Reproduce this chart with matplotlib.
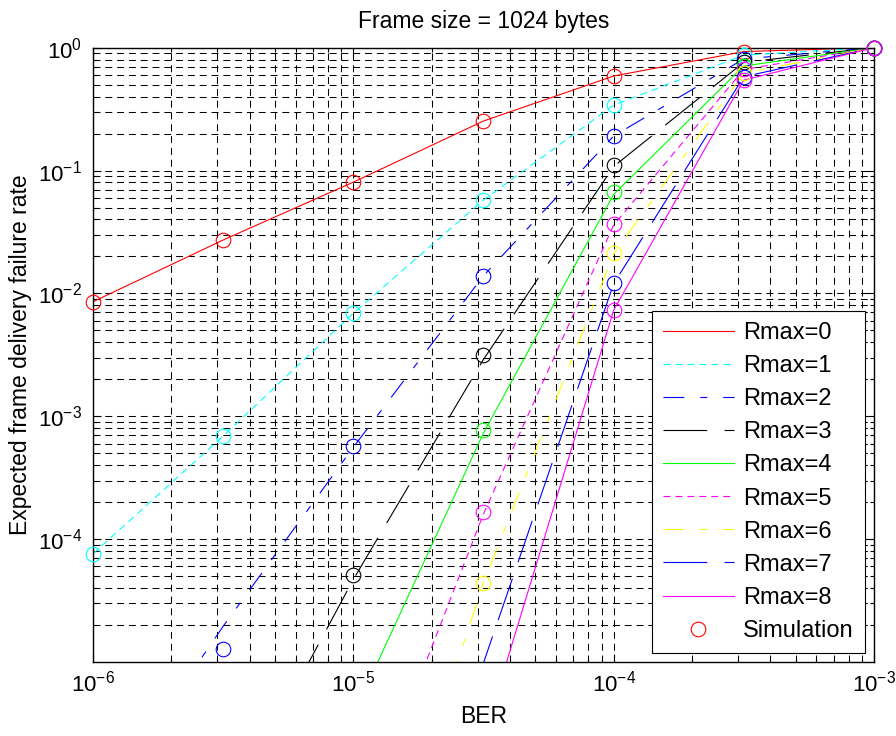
import numpy as np
import matplotlib
matplotlib.use("Agg")
import matplotlib.pyplot as plt
from matplotlib.lines import Line2D
from matplotlib.ticker import FixedLocator, LogFormatterSciNotation, NullFormatter

plt.rcParams["font.family"] = ["Liberation Sans", "DejaVu Sans"]
plt.rcParams["lines.scale_dashes"] = False

# Bit error rates at which the failure rate is evaluated
ber = [1e-6, 3.16e-6, 1e-5, 3.16e-5, 1e-4, 3.16e-4, 1e-3]

# Analytic expected frame delivery failure rate per retry limit
rate_r0 = [8.55e-3, 2.72e-2, 8.05e-2, 2.53e-1, 5.88e-1, 9.30e-1, 1.0]
rate_r1 = [7.6e-5, 6.9e-4, 6.9e-3, 5.75e-2, 3.41e-1, 8.70e-1, 1.0]
rate_r2 = [5.5e-7, 1.95e-5, 5.6e-4, 1.39e-2, 1.91e-1, 8.10e-1, 1.0]
rate_r3 = [4.5e-9, 5.0e-7, 4.7e-5, 2.9e-3, 1.08e-1, 7.60e-1, 1.0]
rate_r4 = [3.7e-11, 1.1e-8, 3.7e-6, 7.3e-4, 6.4e-2, 7.10e-1, 1.0]
rate_r5 = [3.0e-13, 2.8e-10, 3.0e-7, 1.6e-4, 3.6e-2, 6.65e-1, 1.0]
rate_r6 = [2.5e-15, 7.2e-12, 2.6e-8, 4.4e-5, 2.1e-2, 6.20e-1, 1.0]
rate_r7 = [2.0e-17, 1.8e-13, 1.5e-9, 9.8e-6, 1.2e-2, 5.80e-1, 1.0]
rate_r8 = [1.7e-19, 4.7e-15, 1.2e-10, 2.4e-6, 7.3e-3, 5.45e-1, 1.0]

# Simulated failure rates (NaN where nothing was recorded in range)
nan = np.nan
sim_r0 = [8.55e-3, 2.72e-2, 8.05e-2, 2.53e-1, 5.88e-1, 9.30e-1, 1.0]
sim_r1 = [7.6e-5, 6.9e-4, 6.9e-3, 5.75e-2, 3.41e-1, 8.70e-1, 1.0]
sim_r2 = [nan, 1.27e-5, 5.7e-4, 1.39e-2, 1.91e-1, 8.10e-1, 1.0]
sim_r3 = [nan, nan, 5.1e-5, 3.13e-3, 1.11e-1, 7.60e-1, 1.0]
sim_r4 = [nan, nan, nan, 7.8e-4, 6.68e-2, 7.10e-1, 1.0]
sim_r5 = [nan, nan, nan, 1.65e-4, 3.67e-2, 6.65e-1, 1.0]
sim_r6 = [nan, nan, nan, 4.4e-5, 2.13e-2, 6.20e-1, 1.0]
sim_r7 = [nan, nan, nan, nan, 1.21e-2, 5.80e-1, 1.0]
sim_r8 = [nan, nan, nan, nan, 7.3e-3, 5.45e-1, 1.0]

labels = ["Rmax=0", "Rmax=1", "Rmax=2", "Rmax=3", "Rmax=4",
          "Rmax=5", "Rmax=6", "Rmax=7", "Rmax=8"]

rates = [rate_r0, rate_r1, rate_r2, rate_r3, rate_r4, rate_r5, rate_r6, rate_r7, rate_r8]
sims = [sim_r0, sim_r1, sim_r2, sim_r3, sim_r4, sim_r5, sim_r6, sim_r7, sim_r8]

colors = ["#ff0000", "#00ffff", "#0000ff", "#000000", "#00ff00",
          "#ff00ff", "#ffff00", "#0000ff", "#ff00ff"]
solid = "-"
short_dash = (0, (5.0, 3.6))
dash_dot = (0, (15.0, 11.5, 5.0, 11.5))
long_dash = (0, (31.5, 12.5))
styles = [solid, short_dash, dash_dot, long_dash, solid,
          short_dash, dash_dot, long_dash, solid]

fig = plt.figure(figsize=(8.96, 7.36), dpi=100)
ax = fig.add_axes([93 / 896, 1 - 662 / 736, (874 - 93) / 896, (662 - 47.7) / 736])

handles = []
for r, lab, c, ls in zip(rates, labels, colors, styles):
    h, = ax.plot(ber, r, color=c, linestyle=ls, linewidth=0.8, label=lab)
    handles.append(h)

for s, c in zip(sims, colors):
    ax.plot(ber, s, linestyle="none", marker="o", markersize=10.5,
            markerfacecolor="none", markeredgecolor=c, markeredgewidth=0.8,
            clip_on=False, zorder=3)

ax.set_xscale("log")
ax.set_yscale("log")
ax.set_xlim(1e-6, 1e-3)
ax.set_ylim(1e-5, 1.0)

xmajor = [1e-6, 1e-5, 1e-4, 1e-3]
ymajor = [1e-4, 1e-3, 1e-2, 1e-1, 1e0]
xminor = [m * d for d in [1e-6, 1e-5, 1e-4] for m in range(2, 10)]
yminor = [m * d for d in [1e-5, 1e-4, 1e-3, 1e-2, 1e-1] for m in range(2, 10)]
ax.xaxis.set_major_locator(FixedLocator(xmajor))
ax.yaxis.set_major_locator(FixedLocator(ymajor))
ax.xaxis.set_minor_locator(FixedLocator(xminor))
ax.yaxis.set_minor_locator(FixedLocator(yminor))
ax.xaxis.set_major_formatter(LogFormatterSciNotation())
ax.yaxis.set_major_formatter(LogFormatterSciNotation())
ax.xaxis.set_minor_formatter(NullFormatter())
ax.yaxis.set_minor_formatter(NullFormatter())

ax.grid(True, which="both", color="black", linestyle=(0, (5.0, 3.5)), linewidth=0.75)
ax.set_axisbelow(True)

ax.tick_params(which="both", direction="in", top=True, right=True, width=0.8)
ax.tick_params(which="major", length=6, labelsize=16)
ax.tick_params(which="minor", length=3)
ax.tick_params(axis="x", which="major", pad=6)
ax.tick_params(axis="y", which="major", pad=8)
for sp in ax.spines.values():
    sp.set_linewidth(1.0)
    sp.set_color("black")

ax.set_title("Frame size = 1024 bytes", fontsize=16.5, pad=14)
ax.set_xlabel("BER", fontsize=16.5, labelpad=6)
ax.set_ylabel("Expected frame delivery failure rate", fontsize=16.5, labelpad=4)

sim_handle = Line2D([], [], linestyle="none", marker="o", markersize=10.5,
                    markerfacecolor="none", markeredgecolor="#ff0000",
                    markeredgewidth=0.8, label="Simulation")
leg = ax.legend(handles=handles + [sim_handle], loc="lower right",
                fontsize=17, handlelength=3.0, handletextpad=0.4,
                labelspacing=0.47, borderpad=0.45, borderaxespad=0.4,
                fancybox=False, framealpha=1.0, edgecolor="black")
leg.get_frame().set_linewidth(0.8)
leg.set_zorder(5)

fig.savefig("out.png", dpi=100)
